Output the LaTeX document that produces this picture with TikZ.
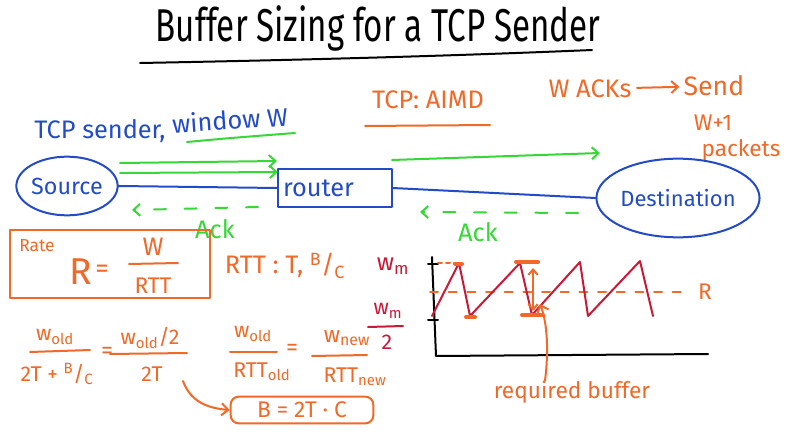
\documentclass[tikz,border=0pt]{standalone}
\usepackage{fontspec}
\setmainfont{Fira Sans}
\newfontfamily\titlefont[FakeStretch=0.72]{Fira Sans}
\usetikzlibrary{arrows.meta,shapes.geometric}
\definecolor{pblue}{RGB}{35,75,200}
\definecolor{pgreen}{RGB}{55,215,55}
\definecolor{porange}{RGB}{240,105,40}
\definecolor{pred}{RGB}{200,25,55}
\begin{document}
\begin{tikzpicture}[x=0.75pt,y=-0.75pt,line cap=round,line join=round,
  fs/.style={font=\fontsize{#1}{#1}\selectfont},
  pen/.style={line width=1.5pt},
  txt/.style={inner sep=0pt},
  bl/.style={txt,text=pblue},
  gr/.style={txt,text=pgreen},
  og/.style={txt,text=porange},
  rd/.style={txt,text=pred},
  tipb/.style={-{Straight Barb[length=5pt,width=9pt]}},
]
\fill[white] (0,0) rectangle (794,432);
\useasboundingbox (0,0) rectangle (794,432);

% title
\node[txt,font=\titlefont\fontsize{34.5}{34.5}\selectfont] (title) at (378,28) {Buffer Sizing for a TCP Sender};
\draw[pen,black] (140,63) .. controls (300,60) and (450,56) .. (592,50);

% top texts
\node[bl,fs=19] (tcps) at (100,131) {TCP sender,};
\node[bl,fs=19,rotate=4] (win) at (230,120) {window W};
\draw[pen,pgreen] (187,142) .. controls (230,138) .. (295,133);

\node[og,fs=19] (aimd) at (428,100) {TCP: AIMD};
\draw[pen,porange] (365,126) -- (490,125);

\node[og,fs=19] (wacks) at (590,89) {W ACKs};
\node[og,fs=20] (send) at (714,86) {Send};
\draw[pen,porange,tipb,shorten <=4pt,shorten >=3pt] (wacks) -- (send);
\node[og,fs=17] (w1) at (713,123) {W+1};
\node[og,fs=17] (pk) at (741,150) {packets};

% network
\node[draw=pblue,pen,ellipse,minimum width=76pt,minimum height=44pt,text=pblue,fs=17.5,inner sep=0pt] (src) at (67,186) {Source};
\node[draw=pblue,pen,rectangle,minimum width=85pt,minimum height=28pt,text=pblue,fs=19,inner sep=3pt,text width=78pt,align=left] (router) at (335,188) {router};
\node[draw=pblue,pen,ellipse,minimum width=120pt,minimum height=59pt,text=pblue,fs=16.5,inner sep=0pt] (dest) at (678,198) {Destination};
\draw[pen,pblue] (src.east) -- (router.west);
\draw[pen,pblue] (router.east) -- (dest.west);

% green data arrows
\coordinate (ga1) at (120,163); \coordinate (gb1) at (277,161);
\coordinate (ga2) at (120,173); \coordinate (gb2) at (278,172);
\coordinate (ga3) at (392,160); \coordinate (gb3) at (600,153);
\draw[pen,pgreen,tipb] (ga1) -- (gb1);
\draw[pen,pgreen,tipb] (ga2) -- (gb2);
\draw[pen,pgreen,tipb] (ga3) -- (gb3);

% ack arrows
\coordinate (aa1) at (258,207); \coordinate (ab1) at (132,210);
\coordinate (aa2) at (578,213); \coordinate (ab2) at (420,212);
\draw[pen,pgreen,dash pattern=on 9pt off 14pt,tipb] (aa1) -- (ab1);
\draw[pen,pgreen,dash pattern=on 9pt off 14pt,tipb] (aa2) -- (ab2);
\node[gr,fs=19] (ack1) at (215,229) {Ack};
\node[gr,fs=19] (ack2) at (478,232) {Ack};

% rate box
\node[draw=porange,pen,minimum width=150pt,minimum height=51pt,inner sep=0pt] (ratebox) at (110,264) {};
\node[og,fs=13] (rate) at (37,246) {Rate};
\node[og,fs=28] (rr) at (81,272) {R};
\node[og,fs=20] (req) at (102,271) {=};
\node[og,fs=19] (rw) at (153,247) {W};
\node[og,fs=17] (rtt) at (153,286) {RTT};
\draw[pen,porange] (129,264) -- (178,263);

\node[og,fs=19] (rttdef) at (285,266) {RTT : T, \textsuperscript{B}/\textsubscript{C}};

% red labels
\node[rd,fs=18] (wm1) at (393,266) {w\textsubscript{m}};
\node[rd,fs=16] (wm2) at (388,311) {w\textsubscript{m}};
\node[rd,fs=16] (two) at (387,342) {2};
\draw[pen,pred] (368,327) -- (403,326);

% graph
\coordinate (yt) at (432,257); \coordinate (org) at (436,356); \coordinate (xe) at (708,354);
\draw[pen,black] (yt) -- (org) -- (xe);
\draw[pen,black] (428,264) -- (438,264);
\draw[pen,black] (428,320) -- (438,320);
\draw[pen,porange,dashed] (438,263) -- (457,263);
\draw[pen,porange,dash pattern=on 6pt off 8pt] (430,292) -- (690,292);
\node[og,fs=17] (rlab) at (705,292) {R};
\draw[pen,pred] (432,316) -- (459,263) -- (470,316) -- (520,263) -- (532,315) -- (580,262) -- (588,316) -- (640,261) -- (653,316);
\draw[line width=3pt,porange] (455,264) -- (462,264);
\draw[line width=3pt,porange] (516,262) -- (538,262);
\draw[line width=3pt,porange] (466,317) -- (475,317);
\draw[line width=3pt,porange] (522,315) -- (543,315);
\draw[pen,porange,{Straight Barb[length=4pt,width=7pt]}-{Straight Barb[length=4pt,width=7pt]}] (533,268) -- (533,311);
\node[og,fs=17] (reqbuf) at (572,392) {required buffer};
\coordinate (rbtip) at (540,304);
\draw[pen,porange,tipb] (reqbuf.north -| 545,0) .. controls (549,350) and (547,322) .. (rbtip);

% bottom equations
\node[og,fs=16] (n1) at (55,337) {w\textsubscript{old}};
\draw[pen,porange] (30,352) -- (90,350);
\node[og,fs=16] (d1) at (57,374) {2T + \textsuperscript{B}/\textsubscript{C}};
\node[og,fs=18] (e1) at (107,353) {=};
\node[og,fs=16] (n2) at (150,338) {w\textsubscript{old}/2};
\draw[pen,porange] (110,354) -- (187,353);
\node[og,fs=16] (d2) at (152,374) {2T};
\node[og,fs=16] (n3) at (253,334) {w\textsubscript{old}};
\draw[pen,porange] (230,352) -- (277,352);
\node[og,fs=16] (d3) at (262,372) {RTT\textsubscript{old}};
\node[og,fs=18] (e2) at (292,350) {=};
\node[og,fs=17] (n4) at (347,338) {w\textsubscript{new}};
\draw[pen,porange] (312,356) -- (367,355);
\node[og,fs=16] (d4) at (355,377) {RTT\textsubscript{new}};

\node[draw=porange,pen,rounded corners=6pt,minimum width=107pt,minimum height=20pt,text=porange,fs=17,inner sep=0pt] (bbox) at (302,410) {B = 2T · C};
\coordinate (ca) at (183,381);
\draw[pen,porange,tipb] (ca) .. controls (190,400) and (205,408) .. (bbox.west);
\end{tikzpicture}
\end{document}
